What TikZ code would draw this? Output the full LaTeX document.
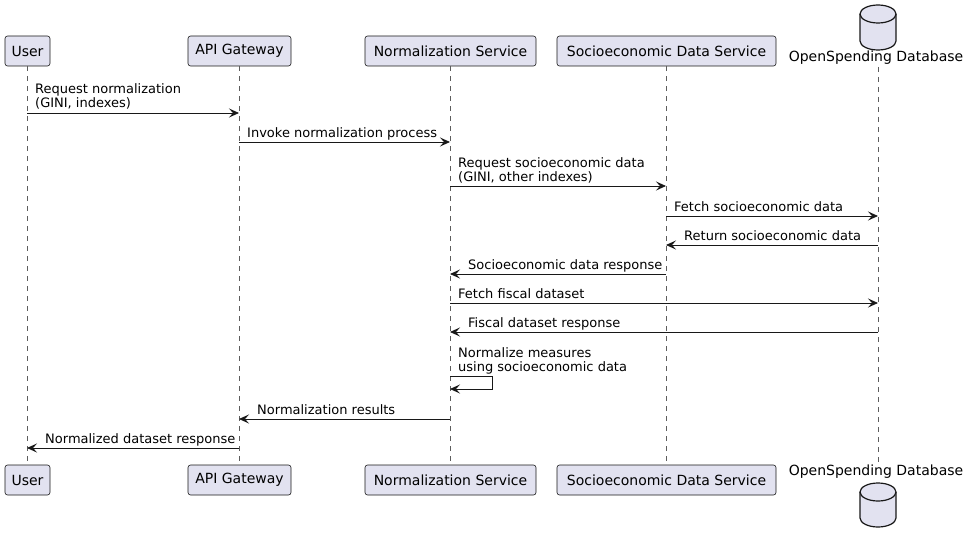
\documentclass[tikz,border=0pt]{standalone}
\usepackage{fontspec}
\setmainfont{DejaVu Sans}
\usetikzlibrary{arrows.meta}
\definecolor{pbox}{HTML}{E2E2F0}
\definecolor{pline}{HTML}{181818}
\begin{document}
\begin{tikzpicture}[x=1pt,y=-1pt,
  part/.style={draw=pline,fill=pbox,rounded corners=2.5pt,line width=0.6pt,minimum height=30pt,inner sep=0pt,font=\fontsize{14}{16}\selectfont,text=black},
  lifeline/.style={draw=pline!70,line width=0.6pt,dash pattern=on 5pt off 5pt},
  msg/.style={draw=pline,line width=0.9pt,-{Stealth[length=10pt,width=9pt,inset=4pt]}},
  lbl/.style={anchor=base west,inner sep=0pt,align=left,font=\fontsize{13}{14.5}\selectfont,text=black},
  dblabel/.style={inner sep=0pt,font=\fontsize{14}{16}\selectfont,text=black},
  db/.style={draw=pline,fill=pbox,line width=1.2pt}]
\useasboundingbox (0,0) rectangle (970,543);
% participants top
\node[part,minimum width=45pt] (ut) at (27.5,51) {User};
\node[part,minimum width=103pt] (at) at (239.5,51) {API Gateway};
\node[part,minimum width=171pt] (nt) at (450.5,51) {Normalization Service};
\node[part,minimum width=219pt] (st) at (666.5,51) {Socioeconomic Data Service};
\node[dblabel] (dt) at (876,58) {OpenSpending Database};
% participants bottom
\node[part,minimum width=45pt] (ub) at (27.5,480) {User};
\node[part,minimum width=103pt] (ab) at (239.5,480) {API Gateway};
\node[part,minimum width=171pt] (nb) at (450.5,480) {Normalization Service};
\node[part,minimum width=219pt] (sb) at (666.5,480) {Socioeconomic Data Service};
\node[dblabel] (db) at (876,472) {OpenSpending Database};
% database cylinders
\path[db] (860,14) -- (860,41) arc[start angle=180,end angle=0,x radius=18,y radius=9] -- (896,14) arc[start angle=0,end angle=-180,x radius=18,y radius=9] -- cycle;
\draw[db,fill=none] (860,14) arc[start angle=180,end angle=0,x radius=18,y radius=9];
\path[db] (860,492) -- (860,518) arc[start angle=180,end angle=0,x radius=18,y radius=9] -- (896,492) arc[start angle=0,end angle=-180,x radius=18,y radius=9] -- cycle;
\draw[db,fill=none] (860,492) arc[start angle=180,end angle=0,x radius=18,y radius=9];
% lifelines
\draw[lifeline] (ut.south) -- (ub.north);
\draw[lifeline] (at.south) -- (ab.north);
\draw[lifeline] (nt.south) -- (nb.north);
\draw[lifeline] (st.south) -- (sb.north);
\draw[lifeline] (878,67) -- (878,463);
% message coordinates
\coordinate (u1) at (27,113); \coordinate (a1) at (239,113);
\coordinate (a2) at (239,142); \coordinate (n2) at (450,142);
\coordinate (n3) at (450,186); \coordinate (s3) at (666,186);
\coordinate (s4) at (666,216); \coordinate (d4) at (878,216);
\coordinate (d5) at (878,245); \coordinate (s5) at (666,245);
\coordinate (s6) at (666,274); \coordinate (n6) at (450,274);
\coordinate (n7) at (450,303); \coordinate (d7) at (878,303);
\coordinate (d8) at (878,332); \coordinate (n8) at (450,332);
\coordinate (n9a) at (450,376); \coordinate (n9b) at (450,389);
\coordinate (n10) at (450,419); \coordinate (a10) at (239,419);
\coordinate (a11) at (239,448); \coordinate (u11) at (27,448);
% messages
\draw[msg] (u1) -- (a1);
\node[lbl] (l1) at (35,107.5) {Request normalization\\(GINI, indexes)};
\draw[msg] (a2) -- (n2);
\node[lbl] (l2) at (247,137.5) {Invoke normalization process};
\draw[msg] (n3) -- (s3);
\node[lbl] (l3) at (458,181.5) {Request socioeconomic data\\(GINI, other indexes)};
\draw[msg] (s4) -- (d4);
\node[lbl] (l4) at (674,211.5) {Fetch socioeconomic data};
\draw[msg] (d5) -- (s5);
\node[lbl] (l5) at (684,240.5) {Return socioeconomic data};
\draw[msg] (s6) -- (n6);
\node[lbl] (l6) at (468,269.5) {Socioeconomic data response};
\draw[msg] (n7) -- (d7);
\node[lbl] (l7) at (458,298.5) {Fetch fiscal dataset};
\draw[msg] (d8) -- (n8);
\node[lbl] (l8) at (468,327.5) {Fiscal dataset response};
\draw[msg] (n9a) -- ++(42,0) |- (n9b);
\node[lbl] (l9) at (458,371.5) {Normalize measures\\using socioeconomic data};
\draw[msg] (n10) -- (a10);
\node[lbl] (l10) at (257,414.5) {Normalization results};
\draw[msg] (a11) -- (u11);
\node[lbl] (l11) at (45,443) {Normalized dataset response};
\end{tikzpicture}
\end{document}
